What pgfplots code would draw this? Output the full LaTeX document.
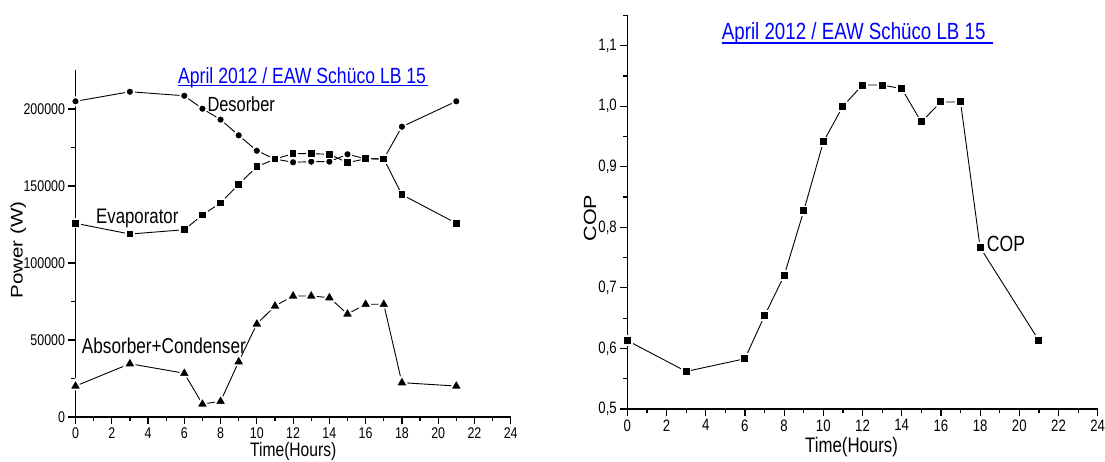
\documentclass[border=0pt]{standalone}
\usepackage{fontspec}
\setmainfont{Liberation Sans}[FakeStretch=0.8]
\newfontfamily\plainfont{Liberation Sans}
\usepackage{pgfplots}
\pgfplotsset{compat=1.18}
\definecolor{titleblue}{RGB}{0,0,255}
\pgfplotsset{
  origin/.style={
    scale only axis,
    axis x line*=bottom, axis y line*=left,
    axis line style={-, line width=1.2pt, black},
    tick align=outside,
    major tick length=7pt, minor tick length=4pt,
    tick style={black, line width=1.2pt},
    xmin=0, xmax=24, xtick={0,2,...,24},
    minor x tick num=1, minor y tick num=1,
    clip=false,
    /pgf/number format/assume math mode=true,
    /pgf/number format/1000 sep={},
    scaled y ticks=false,
  },
  series/.style={black, line width=0.9pt, mark options={solid, draw=white, line width=1.8pt, fill=black, line join=round}},
}
\begin{document}
\begin{tikzpicture}[x=1pt,y=1pt]
\path[use as bounding box] (0,0) rectangle (1105,461);
% ---------------- left axis ----------------
\begin{axis}[origin,
  at={(75.5pt,44pt)}, anchor=south west,
  width=435.2pt, height=346.5pt,
  ymin=0, ymax=225000,
  ytick={0,50000,100000,150000,200000},
  xticklabel style={font=\fontsize{15.5}{18}\selectfont},
  yticklabel style={font=\fontsize{15.5}{18}\selectfont,
    /pgf/number format/.cd, fixed, precision=0, 1000 sep={}},
]
\addplot[series, mark=*, mark size=4.2pt] coordinates {
(0,205000)(3,211200)(6,208600)(7,200200)(8,193100)(9,182900)(10,172900)(11,167500)
(12,165400)(13,165800)(14,165800)(15,170600)(16,167700)(17,167600)(18,188500)(21,205000)};
\addplot[series, mark=square*, mark size=4.2pt] coordinates {
(0,125800)(3,118800)(6,121600)(7,131200)(8,139000)(9,151100)(10,162500)(11,167500)
(12,171000)(13,171000)(14,170600)(15,165100)(16,167700)(17,167600)(18,144400)(21,125800)};
\addplot[series, mark=triangle*, mark size=7pt] coordinates {
(0,20100)(3,34600)(6,28400)(7,8400)(8,10200)(9,35900)(10,60400)(11,72100)
(12,78600)(13,78600)(14,77500)(15,66900)(16,73200)(17,73200)(18,22300)(21,20100)};
\end{axis}
% ---------------- right axis ----------------
\begin{axis}[origin,
  at={(627.3pt,52pt)}, anchor=south west,
  width=470.4pt, height=393.6pt,
  ymin=0.5, ymax=1.15,
  ytick={0.5,0.6,...,1.15},
  yticklabel style={font=\fontsize{16.5}{19}\selectfont,
    /pgf/number format/.cd, fixed, fixed zerofill, precision=1, use comma},
  xticklabel style={font=\fontsize{16.5}{19}\selectfont},
]
\addplot[series, mark=square*, mark size=4.4pt] coordinates {
(0,0.613)(3,0.562)(6,0.583)(7,0.654)(8,0.720)(9,0.827)(10,0.941)(11,1.000)
(12,1.035)(13,1.035)(14,1.029)(15,0.974)(16,1.007)(17,1.007)(18,0.767)(21,0.613)};
\end{axis}
% ---------------- texts ----------------
\node[anchor=base west, inner sep=0, font=\fontsize{20.5}{24}\selectfont] at (207.3,349.3) {Desorber};
\node[anchor=base west, inner sep=0, font=\fontsize{21}{24}\selectfont] at (96,237.7) {Evaporator};
\node[anchor=base west, inner sep=0, font=\fontsize{21.5}{24}\selectfont] at (81.7,107.7) {Absorber+Condenser};
\node[anchor=base west, inner sep=0, font=\fontsize{22}{26}\selectfont] at (986.7,209.3) {COP};
% titles
\node[anchor=base west, inner sep=0, text=titleblue, font=\fontsize{22}{26}\selectfont] at (178,377.7) {April 2012 / EAW Schüco LB 15};
\draw[titleblue, line width=1.3pt] (178,375.2) -- (428.3,375.2);
\node[anchor=base west, inner sep=0, text=titleblue, font=\fontsize{23.4}{28}\selectfont] at (721.7,421) {April 2012 / EAW Schüco LB 15};
\draw[titleblue, line width=1.3pt] (721.7,418) -- (992.7,418);
% x labels
\node[anchor=base west, inner sep=0, font=\fontsize{19.5}{23}\selectfont] at (250,4.5) {Time(Hours)};
\node[anchor=base west, inner sep=0, font=\fontsize{21}{25}\selectfont] at (805,9) {Time(Hours)};
% y labels
\node[inner sep=0] at (18.3,211) {\rotatebox{90}{\scalebox{1}[0.82]{\plainfont\fontsize{20.5}{24}\selectfont Power (W)}}};
\node[inner sep=0] at (590,243) {\rotatebox{90}{\scalebox{1}[0.82]{\plainfont\fontsize{21.5}{25}\selectfont COP}}};
\end{tikzpicture}
\end{document}
